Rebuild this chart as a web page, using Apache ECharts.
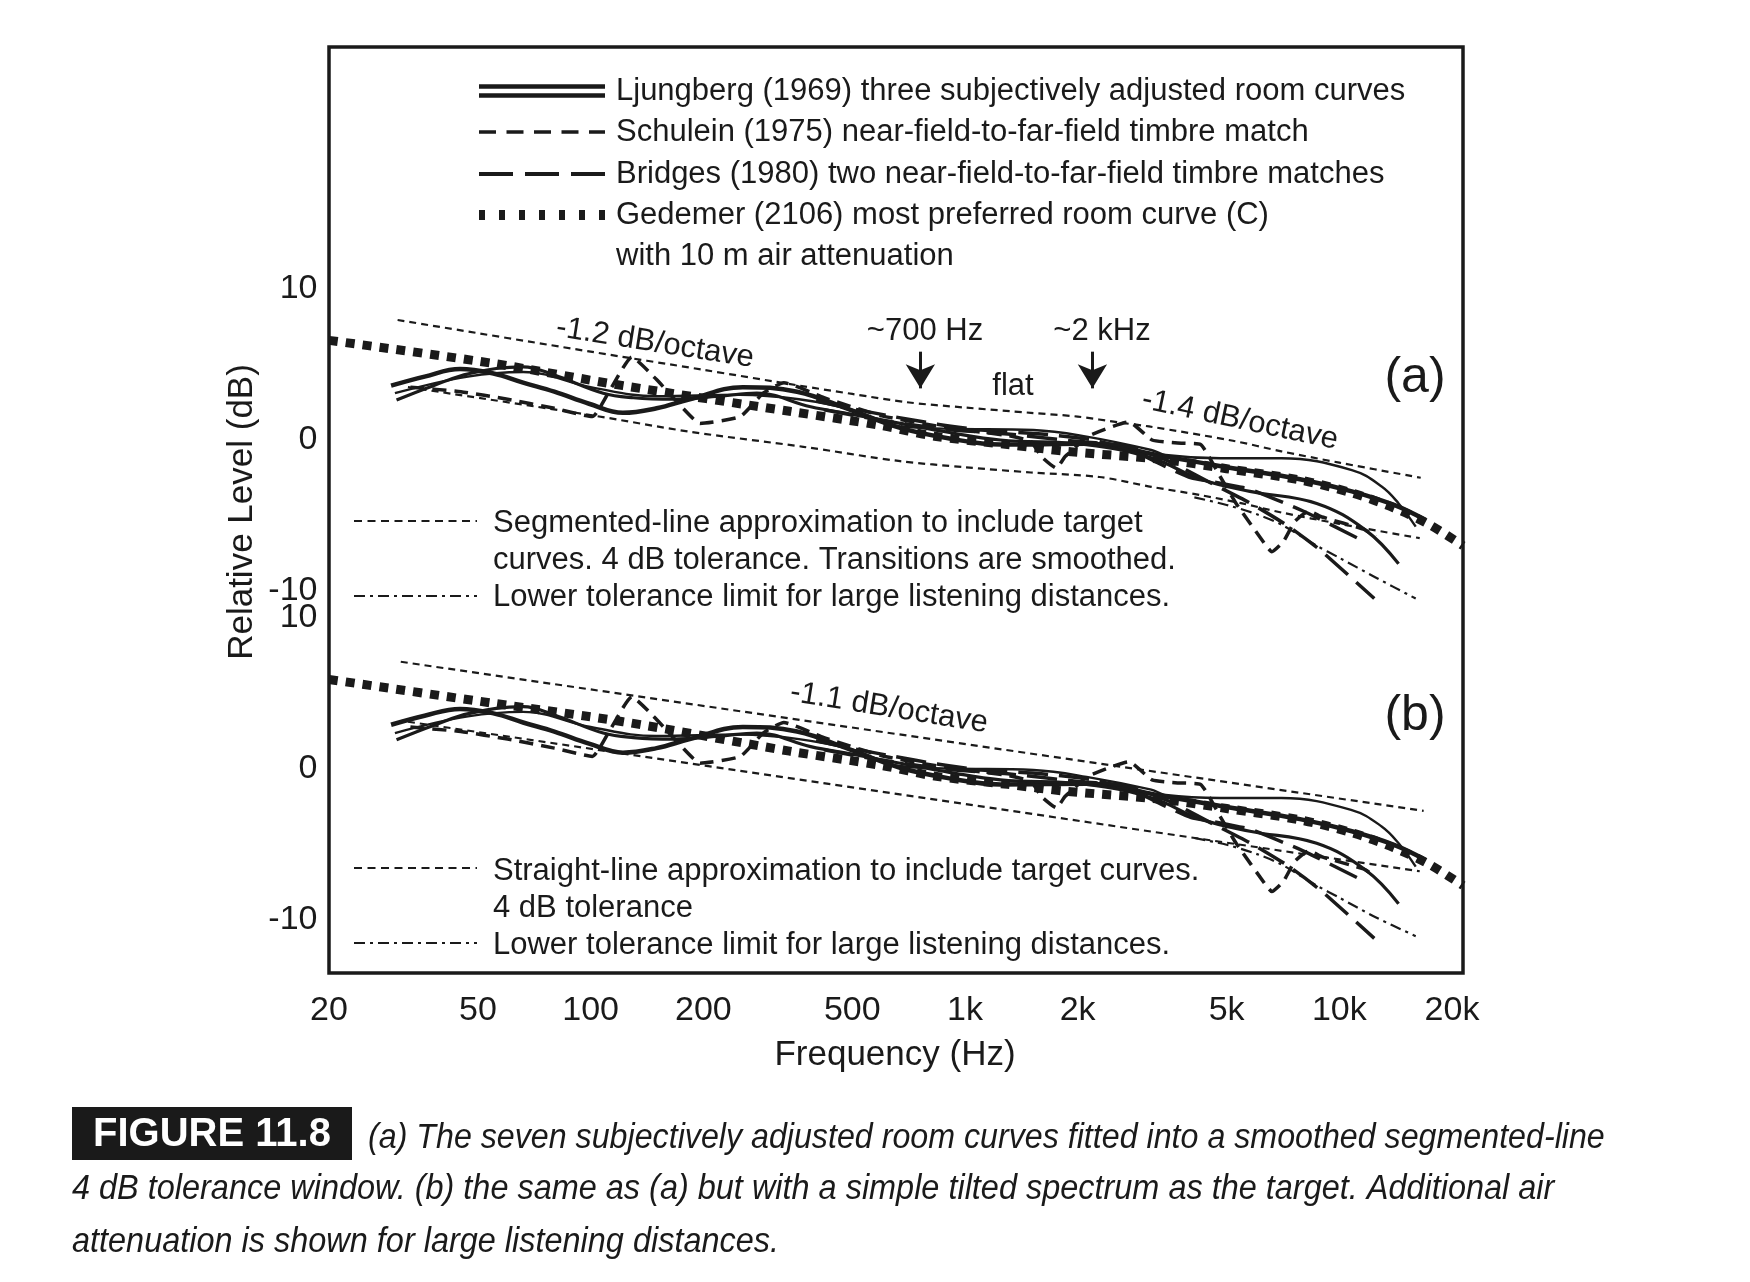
<!DOCTYPE html>
<html><head><meta charset="utf-8">
<script src="https://cdn.jsdelivr.net/npm/echarts@6/dist/echarts.min.js"></script>
<style>html,body{margin:0;padding:0;background:#fff}#c{width:1750px;height:1282px}</style>
</head><body><div id="c"></div>
<script>
// ---------- tick labels ----------
const X_TICKS = [20, 50, 100, 200, 500, 1000, 2000, 5000, 10000, 20000];
const X_LABELS = ['20', '50', '100', '200', '500', '1k', '2k', '5k', '10k', '20k'];
const Y_TICKS = [-10, 0, 10];

// ---------- Ljungberg (1969) three curves ----------
const L1_F = [29.3, 36, 44.8, 55, 66, 80, 99, 122, 150, 184, 255, 356, 494, 671, 909, 1243, 2113, 3437, 5000, 7850, 10800, 14000, 17000];
const L1_a = [3.4, 4.0, 4.5, 4.2, 3.6, 3.0, 2.2, 1.6, 1.9, 2.5, 3.3, 3.0, 1.8, 0.6, -0.1, -0.5, -0.45, -1.3, -2.0, -2.8, -3.6, -4.5, -5.5];
const L1_b = [2.6, 3.2, 3.65, 3.35, 2.75, 2.15, 1.35, 0.75, 1.05, 1.65, 2.45, 2.15, 0.95, -0.25, -0.95, -1.35, -1.3, -2.15, -2.85, -3.65, -4.45, -5.35, -6.35];

const L2_F = [30.3, 38, 47.5, 66, 80, 108, 130, 166, 220, 278, 387, 500, 671, 909, 1243, 2113, 3160, 4260, 5770, 8700, 11800, 14400];
const L2_a = [2.45, 3.4, 4.2, 4.65, 4.1, 2.9, 2.6, 2.5, 2.7, 2.9, 2.0, 1.5, 0.9, 0.3, -0.2, -0.5, -1.4, -2.8, -3.6, -4.4, -6.2, -8.4];
const L2_b = [1.6, 2.55, 3.35, 3.8, 3.25, 2.05, 1.75, 1.65, 1.85, 2.05, 1.15, 0.65, 0.05, -0.55, -1.05, -1.35, -2.25, -3.65, -4.45, -5.25, -7.05, -9.25];

const L3_F = [30, 47, 66, 100, 150, 250, 360, 500, 671, 909, 1523, 2113, 3145, 3437, 4810, 7000, 10800, 13000, 14400, 16000];
const L3_a = [2.9, 4.0, 4.3, 3.3, 2.7, 2.8, 2.5, 1.8, 0.7, 0.55, 0.46, 0.02, -0.86, -1.19, -1.41, -1.41, -2.19, -3.29, -4.4, -5.94];
const L3_b = [2.05, 3.15, 3.45, 2.45, 1.85, 1.95, 1.65, 0.95, -0.15, -0.3, -0.4, -0.85, -1.7, -2.05, -2.25, -2.25, -3.05, -4.15, -5.25, -6.8];

// ---------- Schulein (1975) ----------
const S_F = [33, 45, 60, 80, 101, 112.6, 128.8, 150, 175, 196, 251, 289, 328, 420, 600, 900, 1300, 1500, 1600, 1755, 1850, 1940, 2115, 2740, 3160, 3700, 4260, 4800, 5300, 6400, 6600, 7100, 7600, 8300, 9000, 11600, 12500];
const S_a = [3.3, 3.0, 2.5, 1.9, 1.35, 3.1, 5.3, 3.8, 2.0, 0.9, 1.35, 2.9, 3.6, 2.6, 1.4, 0.6, 0.1, -0.3, -1.3, -2.07, -1.3, -0.86, 0.02, 1.0, -0.2, -0.4, -0.5, -2.6, -4.4, -7.26, -7.6, -6.9, -5.6, -4.9, -5.3, -6.1, -6.6];
const S_b = [2.45, 2.15, 1.65, 1.05, 0.5, 2.25, 4.45, 2.95, 1.15, 0.05, 0.5, 2.05, 2.75, 1.75, 0.55, -0.25, -0.75, -1.15, -2.15, -2.9, -2.15, -1.7, -0.85, 0.15, -1.05, -1.25, -1.35, -3.45, -5.25, -8.1, -8.45, -7.75, -6.45, -5.75, -6.15, -6.95, -7.45];

// ---------- Bridges (1980) two curves ----------
const BA_F = [400, 472, 647, 843, 1104, 1600, 2200, 2800, 3437, 4020, 4580, 5380, 5770, 8000, 11200];
const BA_a = [2.4, 2.0, 1.34, 0.85, 0.46, 0.2, -0.2, -0.9, -1.97, -2.7, -2.96, -3.3, -3.45, -4.9, -6.7];
const BA_b = [1.55, 1.15, 0.5, 0.0, -0.4, -0.65, -1.05, -1.75, -2.8, -3.55, -3.8, -4.15, -4.3, -5.75, -7.55];
const BB_F = [420, 600, 900, 1300, 2000, 2700, 3500, 4500, 5800, 7300, 8900, 12400];
const BB_a = [1.8, 1.1, 0.5, 0.2, -0.3, -0.6, -1.6, -3.0, -4.4, -5.9, -7.5, -10.7];
const BB_b = [0.95, 0.25, -0.35, -0.65, -1.15, -1.45, -2.45, -3.85, -5.25, -6.75, -8.35, -11.55];

// ---------- Gedemer most preferred curve with air attenuation ----------
const G_F = [20, 54, 122, 340, 600, 830, 1300, 1860, 3400, 5000, 7850, 10800, 14000, 17400, 21400];
const G_a = [6.4, 4.9, 3.4, 1.7, 0.75, 0.05, -0.5, -0.95, -1.5, -2.1, -2.85, -3.7, -4.7, -5.8, -7.2];
const G_b = [5.6, 4.05, 2.8, 0.85, -0.1, -0.8, -1.35, -1.8, -2.35, -2.95, -3.7, -4.55, -5.55, -6.65, -8.05];

// ---------- (a) segmented tolerance window ----------
const TU_F = [30.5, 100, 200, 361, 500, 700, 1000, 1500, 2000, 2600, 3100, 5200, 7000, 10000, 16500];
const TU_a = [7.75, 5.65, 4.45, 3.4, 2.85, 2.3, 1.95, 1.6, 1.35, 0.95, 0.7, -0.25, -0.95, -1.7, -2.7];
const TL_F = [32.5, 100, 184, 370, 671, 1000, 1500, 2286, 3145, 4260, 5500, 7000, 10000, 16400];
const TL_a = [3.3, 1.45, 0.35, -0.65, -1.6, -2.0, -2.35, -2.65, -3.3, -3.85, -4.4, -5.0, -5.75, -6.7];
// ---------- lower limit for large listening distances ----------
const DD_F = [4100, 5000, 6000, 7000, 8700, 10000, 12500, 16000];
const DD_a = [-4.0, -4.5, -5.1, -5.8, -7.2, -8.0, -9.3, -10.7];
const DD_b = [-4.9, -5.35, -5.95, -6.65, -8.05, -8.85, -10.15, -11.4];
// ---------- (b) straight-line tolerance window ----------
const SU_F = [31.1, 16800];
const SU_b = [6.77, -3.1];
const SL_F = [32.5, 16400];
const SL_b = [2.8, -7.1];
// ---------- arrows (~700 Hz, ~2 kHz) ----------
const ARROW_F = [760, 2190];
const ARROW_DB = [5.65, 3.22];

// =====================================================
const INK = '#1a1a1a';
const FF = '"Liberation Sans", Arial, Helvetica, sans-serif';
const zip = (f, v) => f.map((x, i) => [x, v[i]]);
const chart = echarts.init(document.getElementById('c'), null, {renderer: 'canvas'});

const GL = 329, GW = 1134;
const xLab = v => { const i = X_TICKS.findIndex(t => Math.abs(t - v) / t < 1e-6); return i >= 0 ? X_LABELS[i] : ''; };
function xAx(gi, show) {
  return {type: 'log', logBase: 10, gridIndex: gi, min: 20, max: 21400,
    axisLine: {show: false}, axisTick: {show: false}, splitLine: {show: false},
    axisLabel: {show: show, customValues: X_TICKS, formatter: xLab, margin: 20.5, fontSize: 34, color: INK, fontFamily: FF}};
}
function yAx(gi, min, max, show, padTop) {
  return {type: 'value', gridIndex: gi, min: min, max: max,
    axisLine: {show: false}, axisTick: {show: false}, splitLine: {show: false},
    axisLabel: {show: show, customValues: Y_TICKS, formatter: v => '{t|' + v + '}', margin: 11.5,
      rich: {t: {fontSize: 34, color: INK, fontFamily: FF, padding: [padTop, 0, 0, 0]}}}};
}
function ser(gi, f, v, width, dash, smooth, z) {
  return {type: 'line', xAxisIndex: gi, yAxisIndex: gi, data: zip(f, v), symbol: 'none', showSymbol: false,
    smooth: smooth, silent: true, z: z || 2,
    lineStyle: {color: INK, width: width, type: dash || 'solid', cap: 'butt', join: 'round'}};
}
const TOL = [7, 5], DDASH = [11, 5, 3, 5], SDASH = [14, 8], LDASH = [30, 11], DOT = [9, 8];

const series = [];
// panel (a)
const tuA = ser(1, TU_F, TU_a, 2.2, TOL, 0.3);
tuA.markLine = {silent: true, symbol: ['none', 'arrow'], symbolSize: [22, 24], label: {show: false},
  lineStyle: {color: INK, width: 3, type: 'solid'}, emphasis: {disabled: true},
  data: ARROW_F.map(f => [{coord: [f, ARROW_DB[0]]}, {coord: [f, ARROW_DB[1]]}])};
series.push(tuA);
series.push(ser(1, TL_F, TL_a, 2.2, TOL, 0.3));
series.push(ser(1, DD_F, DD_a, 2.2, DDASH, 0.3));
series.push(ser(1, L1_F, L1_a, 4.5, 'solid', 0.4));
series.push(ser(1, L2_F, L2_a, 3.2, 'solid', 0.4));
series.push(ser(1, L3_F, L3_a, 2.4, 'solid', 0.4));
series.push(ser(1, S_F, S_a, 3.5, SDASH, 0.15));
series.push(ser(1, BA_F, BA_a, 3.5, LDASH, 0.2));
series.push(ser(1, BB_F, BB_a, 3.5, LDASH, 0.2));
series.push(ser(1, G_F, G_a, 9, DOT, 0.3, 3));
// panel (b)
series.push(ser(2, SU_F, SU_b, 2.2, TOL, false));
series.push(ser(2, SL_F, SL_b, 2.2, TOL, false));
series.push(ser(2, DD_F, DD_b, 2.2, DDASH, 0.3));
series.push(ser(2, L1_F, L1_b, 4.5, 'solid', 0.4));
series.push(ser(2, L2_F, L2_b, 3.2, 'solid', 0.4));
series.push(ser(2, L3_F, L3_b, 2.4, 'solid', 0.4));
series.push(ser(2, S_F, S_b, 3.5, SDASH, 0.15));
series.push(ser(2, BA_F, BA_b, 3.5, LDASH, 0.2));
series.push(ser(2, BB_F, BB_b, 3.5, LDASH, 0.2));
series.push(ser(2, G_F, G_b, 9, DOT, 0.3, 3));

// ---------- text & legend graphics ----------
function txt(x, y, s, size, opts) {
  opts = opts || {};
  return {type: 'text', x: x, y: y, rotation: opts.rot || 0, scaleX: opts.sx || 1, z: 10, silent: true,
    style: {text: s, fill: opts.fill || INK,
      font: (opts.style || 'normal') + ' ' + (opts.weight || 'normal') + ' ' + size + 'px ' + FF,
      align: opts.align || 'left', verticalAlign: 'middle', textAlign: opts.align || 'left', textVerticalAlign: 'middle'}};
}
function seg(x1, y, x2, w, dash) {
  return {type: 'line', z: 10, silent: true, shape: {x1: x1, y1: y, x2: x2, y2: y},
    style: {stroke: INK, lineWidth: w, lineDash: dash || null, lineCap: 'butt'}};
}
const LG = 31;
const g = [];
// top legend
g.push(seg(479, 86.5, 605, 4.5), seg(479, 95.5, 605, 4.5));
g.push(seg(479, 132, 605, 3.5, [17, 10.5]));
g.push(seg(479, 174, 605, 4, [34, 12]));
g.push(seg(479, 215, 605, 10, [6, 14]));
g.push(txt(616, 91, 'Ljungberg (1969) three subjectively adjusted room curves', LG));
g.push(txt(616, 132, 'Schulein (1975) near-field-to-far-field timbre match', LG));
g.push(txt(616, 174, 'Bridges (1980) two near-field-to-far-field timbre matches', LG));
g.push(txt(616, 215, 'Gedemer (2106) most preferred room curve (C)', LG));
g.push(txt(616, 256, 'with 10 m air attenuation', LG));
// panel (a) annotations
g.push(txt(655, 343, '-1.2 dB/octave', LG, {align: 'center', rot: -0.157}));
g.push(txt(925, 331, '~700 Hz', LG, {align: 'center'}));
g.push(txt(1102, 331, '~2 kHz', LG, {align: 'center'}));
g.push(txt(1013, 386, 'flat', LG, {align: 'center'}));
g.push(txt(1240, 420, '-1.4 dB/octave', LG, {align: 'center', rot: -0.21}));
g.push(txt(1415, 378, '(a)', 50, {align: 'center'}));
g.push(seg(354, 521, 477, 2.2, [8, 5.5]));
g.push(txt(493, 523.5, 'Segmented-line approximation to include target', LG));
g.push(txt(493, 560.5, 'curves. 4 dB tolerance. Transitions are smoothed.', LG));
g.push(seg(354, 596, 477, 2.2, [11, 5, 3, 5]));
g.push(txt(493, 597.5, 'Lower tolerance limit for large listening distances.', LG));
// panel (b) annotations
g.push(txt(889, 708, '-1.1 dB/octave', LG, {align: 'center', rot: -0.16}));
g.push(txt(1415, 716, '(b)', 50, {align: 'center'}));
g.push(seg(354, 868, 477, 2.2, [8, 5.5]));
g.push(txt(493, 871.5, 'Straight-line approximation to include target curves.', LG));
g.push(txt(493, 908.5, '4 dB tolerance', LG));
g.push(seg(354, 943, 477, 2.2, [11, 5, 3, 5]));
g.push(txt(493, 945.5, 'Lower tolerance limit for large listening distances.', LG));
// axis titles
g.push(txt(242, 512, 'Relative Level (dB)', 35, {align: 'center', rot: Math.PI / 2}));
g.push(txt(895, 1055, 'Frequency (Hz)', 35, {align: 'center'}));
// caption
g.push({type: 'rect', z: 9, silent: true, shape: {x: 72, y: 1107, width: 280, height: 53}, style: {fill: INK}});
g.push(txt(212, 1135, 'FIGURE 11.8', 40, {align: 'center', weight: 'bold', fill: '#ffffff'}));
g.push(txt(368, 1138, '(a) The seven subjectively adjusted room curves fitted into a smoothed segmented-line', 35, {style: 'italic', sx: 0.92}));
g.push(txt(72, 1189.5, '4 dB tolerance window. (b) the same as (a) but with a simple tilted spectrum as the target. Additional air', 35, {style: 'italic', sx: 0.927}));
g.push(txt(72, 1242, 'attenuation is shown for large listening distances.', 35, {style: 'italic', sx: 0.927}));

chart.setOption({
  animation: false,
  backgroundColor: '#ffffff',
  grid: [
    {left: GL, top: 47, width: GW, height: 926, show: true, borderColor: INK, borderWidth: 3.5, backgroundColor: 'transparent', z: 5},
    {left: GL, top: 47.4, width: GW, height: 616.1},
    {left: GL, top: 582.8, width: GW, height: 390.2}
  ],
  xAxis: [
    {type: 'value', gridIndex: 0, show: false, min: 0, max: 1},
    xAx(1, false),
    xAx(2, true)
  ],
  yAxis: [
    {type: 'value', gridIndex: 0, show: false, min: 0, max: 1},
    yAx(1, -15, 25.8, true, 6),
    yAx(2, -13.84, 12, true, 10)
  ],
  series: series,
  graphic: g
});
</script>
</body></html>
